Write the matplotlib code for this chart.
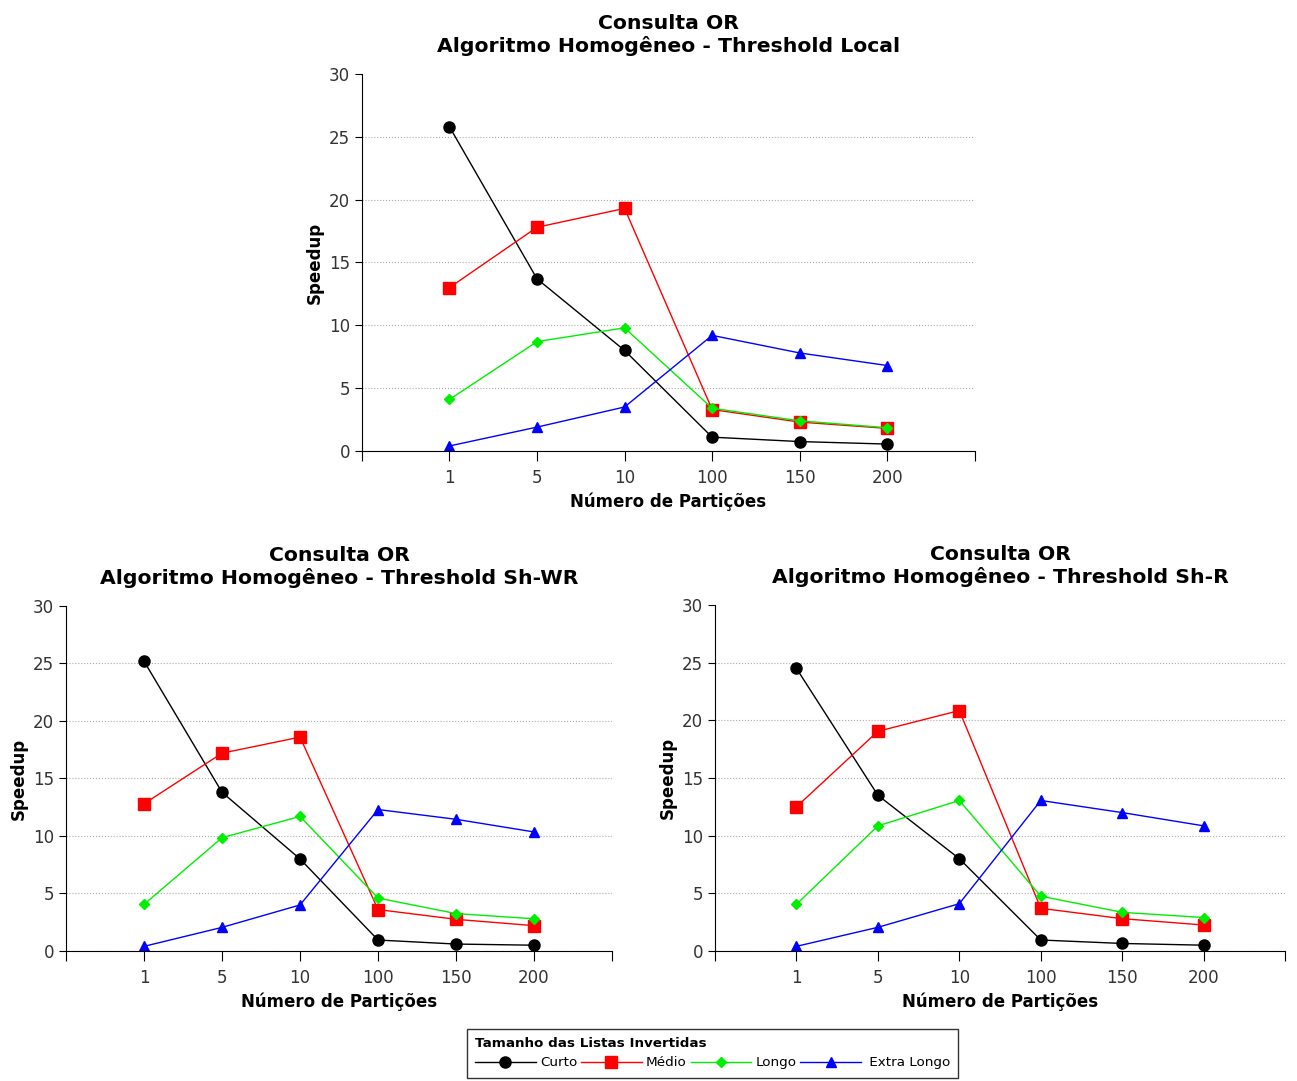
import matplotlib.pyplot as plt
import numpy as np

particoes = ['1', '5', '10', '100', '150', '200']
series = ['Curto', 'Médio', 'Longo', ' Extra Longo']

# Threshold Local
local_curto = [25.8, 13.7, 8.0, 1.1, 0.75, 0.55]
local_medio = [13.0, 17.8, 19.3, 3.3, 2.3, 1.8]
local_longo = [4.1, 8.7, 9.8, 3.4, 2.4, 1.85]
local_extra = [0.4, 1.9, 3.5, 9.2, 7.8, 6.8]

# Threshold Sh-WR
shwr_curto = [25.2, 13.8, 8.0, 0.95, 0.6, 0.5]
shwr_medio = [12.8, 17.2, 18.6, 3.6, 2.75, 2.2]
shwr_longo = [4.05, 9.85, 11.7, 4.6, 3.25, 2.8]
shwr_extra = [0.4, 2.05, 4.0, 12.3, 11.45, 10.35]

# Threshold Sh-R
shr_curto = [24.5, 13.5, 8.0, 0.95, 0.65, 0.5]
shr_medio = [12.5, 19.05, 20.85, 3.7, 2.8, 2.25]
shr_longo = [4.05, 10.85, 13.05, 4.75, 3.35, 2.9]
shr_extra = [0.4, 2.05, 4.1, 13.05, 12.0, 10.85]

estilos = [dict(color='black', marker='o', markersize=8),
           dict(color='red', marker='s', markersize=8),
           dict(color='#00ee00', marker='D', markersize=5),
           dict(color='blue', marker='^', markersize=7)]

def desenha(ax, titulo, dados):
    x = np.arange(1, len(particoes) + 1)
    linhas = []
    for valores, est, nome in zip(dados, estilos, series):
        l, = ax.plot(x, valores, linewidth=1, label=nome, **est)
        linhas.append(l)
    ax.set_xlim(0, len(particoes) + 1)
    ax.set_ylim(0, 30)
    ax.set_xticks(np.arange(0, len(particoes) + 2))
    ax.set_xticklabels([''] + particoes + [''])
    ax.set_yticks(range(0, 31, 5))
    ax.tick_params(axis='both', labelsize=12, labelcolor='#333333', direction='out')
    ax.tick_params(axis='x', length=7, pad=6)
    ax.tick_params(axis='y', length=5)
    ax.yaxis.grid(True, color='#aaaaaa', linestyle=':', linewidth=0.8)
    ax.get_ygridlines()[-1].set_visible(False)
    ax.set_axisbelow(True)
    ax.spines['top'].set_visible(False)
    ax.spines['right'].set_visible(False)
    ax.set_title(titulo, fontsize=14.7, fontweight='bold', pad=16)
    ax.set_xlabel('Número de Partições', fontsize=12, fontweight='bold', labelpad=4)
    ax.set_ylabel('Speedup', fontsize=12, fontweight='bold', labelpad=4)
    return linhas

fig = plt.figure(figsize=(12.97, 10.81), dpi=100)
ax0 = fig.add_axes([0.279, 0.5828, 0.4726, 0.3488])
ax1 = fig.add_axes([0.0509, 0.1203, 0.421, 0.3191])
ax2 = fig.add_axes([0.5513, 0.1203, 0.4395, 0.320])

linhas = desenha(ax0, 'Consulta OR\nAlgoritmo Homogêneo - Threshold Local',
                 [local_curto, local_medio, local_longo, local_extra])
desenha(ax1, 'Consulta OR\nAlgoritmo Homogêneo - Threshold Sh-WR',
        [shwr_curto, shwr_medio, shwr_longo, shwr_extra])
desenha(ax2, 'Consulta OR\nAlgoritmo Homogêneo - Threshold Sh-R',
        [shr_curto, shr_medio, shr_longo, shr_extra])

leg = fig.legend(handles=linhas, labels=series, loc='lower center',
                 bbox_to_anchor=(0.5495, -0.003), ncol=4, fontsize=9.7,
                 title='Tamanho das Listas Invertidas',
                 title_fontproperties={'weight': 'bold', 'size': 9.7},
                 handlelength=4.5, handletextpad=0.3, columnspacing=0.3,
                 frameon=True, fancybox=False, edgecolor='black',
                 borderpad=0.6)
leg._legend_box.align = 'left'
leg.get_frame().set_linewidth(1)

fig.savefig('out.png', dpi=100)
